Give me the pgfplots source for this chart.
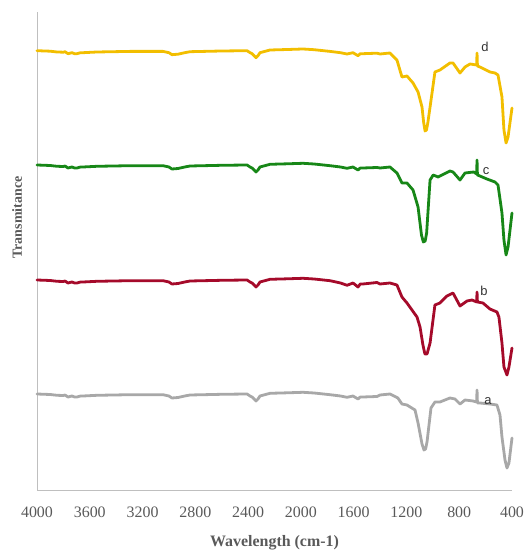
\documentclass[border=0pt]{standalone}
\usepackage{pgfplots}
\pgfplotsset{compat=1.18}
\usepackage{fontspec}
\setmainfont{Liberation Serif}
\newfontfamily\labelfont{Liberation Sans}

\definecolor{specD}{HTML}{F2BE00}
\definecolor{specC}{HTML}{178717}
\definecolor{specB}{HTML}{A50A2A}
\definecolor{specA}{HTML}{A8A8A8}
\definecolor{axisgray}{HTML}{BFBFBF}
\definecolor{textgray}{HTML}{595959}

% FTIR spectra, offset vertically (arbitrary transmittance units)
\pgfplotstableread{
w     T
4000  439.3
3900  438.8
3848  438.0
3800  437.8
3788  438.3
3765  436.3
3735  437.3
3715  436.3
3697  436.3
3670  437.3
3651  437.3
3545  438.0
3295  438.6
3045  438.6
3000  437.3
2977  435.3
2931  435.8
2880  437.3
2840  438.3
2600  439.0
2408  439.3
2385  437.3
2370  436.3
2340  432.3
2325  434.3
2310  437.3
2234  440.0
2100  440.5
1984  441.0
1900  440.3
1779  438.6
1700  437.3
1650  436.0
1605  437.3
1567  434.3
1550  436.3
1530  436.3
1423  436.8
1400  436.0
1325  437.0
1272  430.0
1234  413.0
1196  414.0
1150  407.0
1112  398.0
1082  383.0
1070  368.0
1059  359.0
1048  360.0
1037  368.0
1006  397.0
984   418.0
946   420.0
870   427.0
847   427.0
794   417.0
756   423.0
718   426.0
668   425.0
665   437.0
662   424.0
643   423.0
567   418.0
529   417.0
506   415.0
476   393.0
461   360.0
445   347.0
430   353.0
400   382.0
}\specd

\pgfplotstableread{
w     T
4000  325.0
3900  324.5
3848  323.7
3800  323.5
3788  324.0
3765  322.0
3735  323.0
3715  322.0
3697  322.0
3670  323.0
3651  323.0
3545  323.7
3295  324.3
3045  324.3
3000  323.0
2977  321.0
2931  321.5
2880  323.0
2840  324.0
2600  324.7
2408  325.0
2385  323.0
2370  322.0
2340  318.0
2325  320.0
2310  323.0
2234  325.7
2100  326.2
1984  326.7
1900  326.0
1779  324.3
1700  323.0
1650  321.7
1605  323.0
1567  320.0
1550  322.0
1530  322.0
1423  322.5
1400  322.0
1325  323.0
1272  317.0
1234  307.0
1196  307.0
1150  300.0
1112  283.0
1086  255.0
1072  248.0
1058  249.0
1047  257.0
1021  310.0
997   315.0
960   313.0
870   319.0
847   318.0
794   310.0
756   317.0
690   318.0
668   316.0
665   330.0
662   315.0
643   314.0
590   311.0
529   308.0
506   305.0
476   277.0
461   250.0
445   235.0
430   243.0
400   277.0
}\specc

\pgfplotstableread{
w     T
4000  210.0
3900  209.5
3848  208.7
3800  208.5
3788  209.0
3765  207.0
3735  208.0
3715  207.0
3697  207.0
3670  208.0
3651  208.0
3545  208.7
3295  209.3
3045  209.3
3000  208.0
2977  206.0
2931  206.5
2880  208.0
2840  209.0
2600  209.7
2408  210.0
2385  208.0
2370  207.0
2340  203.0
2325  205.0
2310  208.0
2234  210.7
2100  211.2
1984  211.7
1900  211.0
1779  209.3
1700  207.0
1650  204.7
1605  207.0
1567  203.0
1550  206.0
1530  206.0
1423  207.5
1400  206.0
1325  207.0
1272  205.0
1234  193.0
1196  187.0
1120  173.0
1097  163.0
1075  145.0
1060  136.0
1044  136.0
1021  147.0
984   185.0
946   187.0
893   194.0
847   197.0
794   184.0
741   189.0
703   190.0
668   188.0
665   198.0
662   188.0
620   187.0
567   181.0
514   178.0
499   173.0
476   147.0
461   123.0
438   115.0
423   123.0
400   142.0
}\specb

\pgfplotstableread{
w     T
4000  96.0
3900  95.5
3848  94.7
3800  94.5
3788  95.0
3765  93.0
3735  94.0
3715  93.0
3697  93.0
3670  94.0
3651  94.0
3545  94.7
3295  95.3
3045  95.3
3000  94.0
2977  92.0
2931  92.5
2880  94.0
2840  95.0
2600  95.7
2408  96.0
2385  94.0
2370  93.0
2340  89.0
2325  91.0
2310  94.0
2234  96.7
2100  97.2
1984  97.7
1900  97.0
1779  95.3
1700  94.0
1650  92.7
1605  94.0
1567  91.0
1550  93.0
1530  93.0
1423  93.5
1400  95.0
1325  96.0
1265  92.0
1234  86.0
1196  85.0
1135  80.0
1112  67.0
1082  46.0
1067  40.0
1055  41.0
1044  48.0
1014  82.0
984   88.0
946   88.0
870   92.0
832   91.0
794   86.0
756   90.0
695   89.0
668   88.0
665   100.0
662   87.0
643   87.0
567   86.0
514   85.0
491   75.0
476   53.0
453   30.0
438   22.0
423   27.0
400   52.0
}\speca

\begin{document}
\begin{tikzpicture}
\begin{axis}[
  scale only axis,
  width=475bp, height=478bp,
  x dir=reverse,
  xmin=400, xmax=4000,
  ymin=0, ymax=478,
  axis x line*=bottom,
  axis y line*=left,
  axis line style={axisgray, line width=0.9bp, -},
  xtick={4000,3600,3200,2800,2400,2000,1600,1200,800,400},
  ytick=\empty,
  major tick length=0pt,
  /pgf/number format/1000 sep={},
  /pgf/number format/assume math mode=true,
  xticklabel style={font=\fontsize{16}{18}\selectfont, text=textgray, anchor=base, yshift=-27bp},
  xlabel={Wavelength (cm-1)},
  ylabel={Transmitance},
  xlabel style={at={(axis description cs:0.5,0)}, anchor=center, yshift=-53bp,
    font=\fontsize{16}{18}\selectfont\bfseries, text=textgray},
  ylabel style={at={(axis description cs:0,0.57)}, anchor=center, yshift=20bp,
    font=\fontsize{14}{16}\selectfont\bfseries, text=textgray},
  clip=false,
  every axis plot/.append style={line width=2.8bp, line join=round, line cap=round},
]
\addplot[specA] table[x=w, y=T] {\speca};
\addplot[specB] table[x=w, y=T] {\specb};
\addplot[specC] table[x=w, y=T] {\specc};
\addplot[specD] table[x=w, y=T] {\specd};

\node[font=\labelfont\fontsize{13}{15}\selectfont, text=black!80] at (axis cs:605,443) {d};
\node[font=\labelfont\fontsize{13}{15}\selectfont, text=black!80] at (axis cs:597,319) {c};
\node[font=\labelfont\fontsize{13}{15}\selectfont, text=black!80] at (axis cs:612,199) {b};
\node[font=\labelfont\fontsize{13}{15}\selectfont, text=black!80] at (axis cs:582,89) {a};
\end{axis}
\pgfresetboundingbox
\path (-37bp,-61bp) rectangle (489bp,490bp);
\end{tikzpicture}
\end{document}
